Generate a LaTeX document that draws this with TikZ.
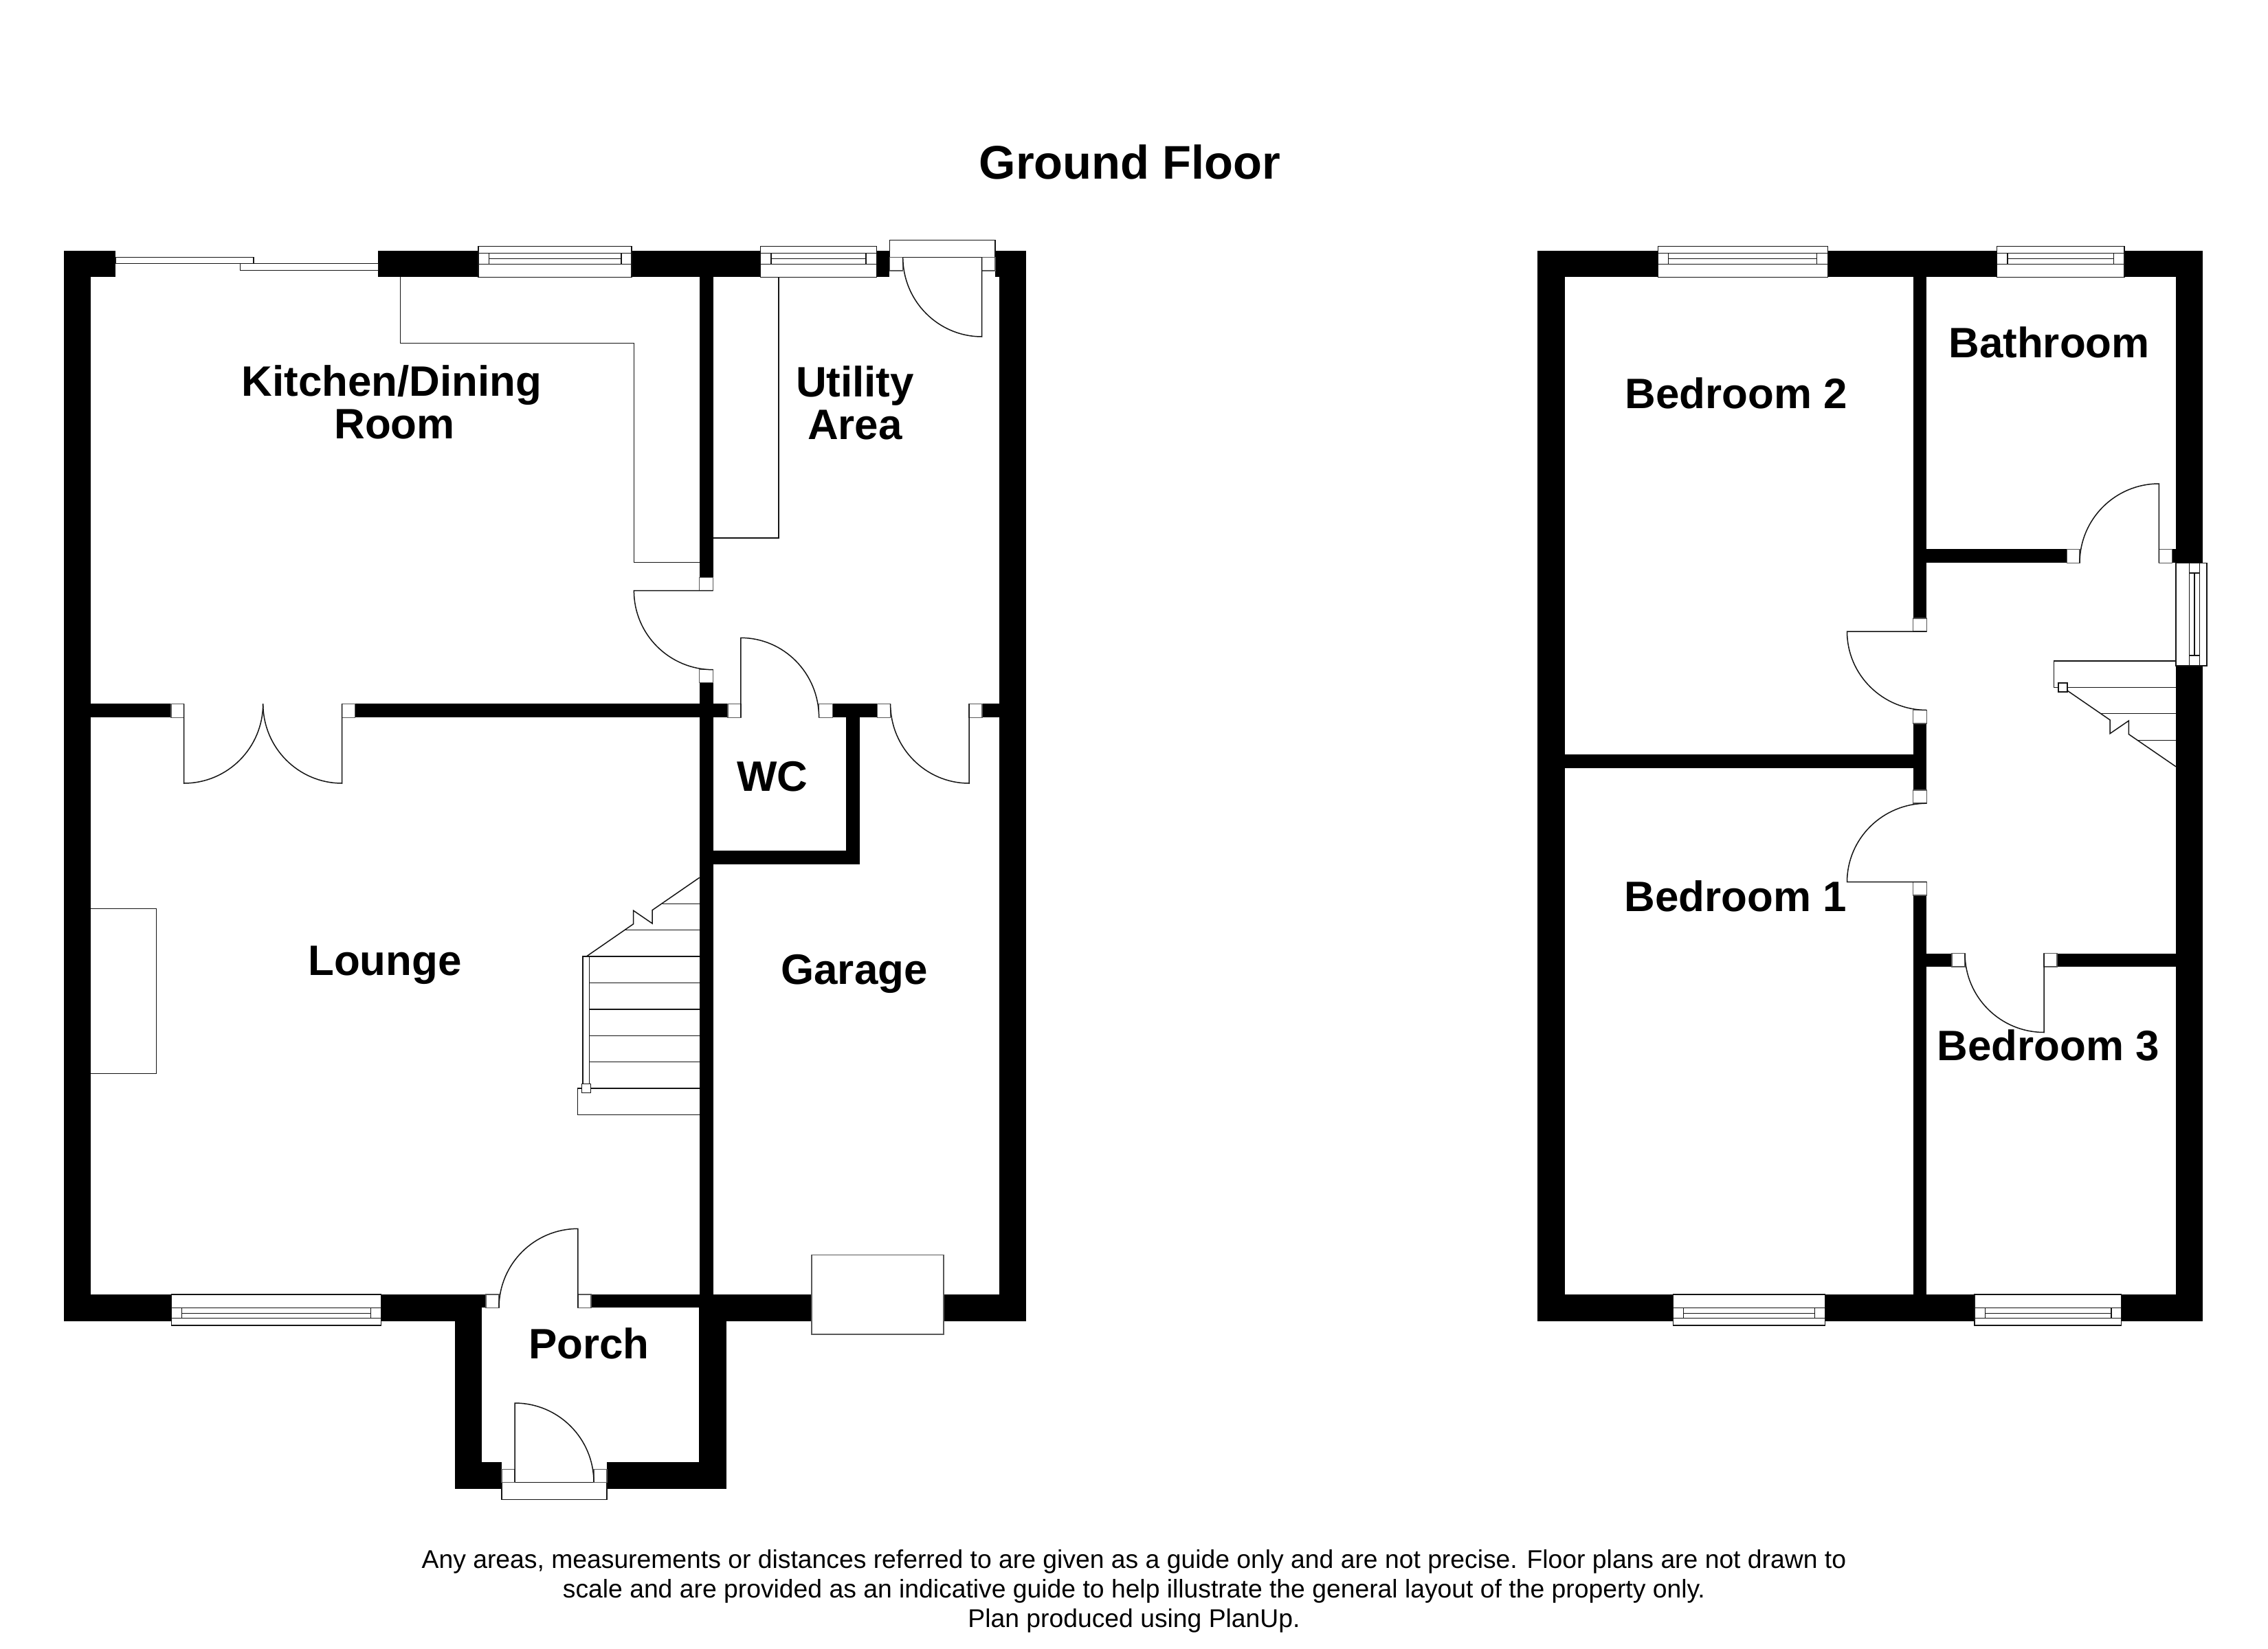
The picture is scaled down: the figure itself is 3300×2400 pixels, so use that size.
\documentclass[tikz,border=0pt]{standalone}
\usepackage{fontspec}
\setmainfont{Liberation Sans}
\tikzset{
  wall/.style={fill=black,draw=none},
  thinline/.style={draw=black!92,line width=1.5pt,line join=miter},
  whitebox/.style={thinline,fill=white},
  jambbox/.style={draw=black!65,line width=1.5pt,fill=white},
  roomlabel/.style={inner sep=0pt,anchor=base,align=center,font=\bfseries\fontsize{61.9}{61.6}\selectfont},
  titlelabel/.style={inner sep=0pt,anchor=base,font=\bfseries\fontsize{68.7}{72}\selectfont},
  footlabel/.style={inner sep=0pt,anchor=base,align=center,font=\fontsize{37.3}{42.7}\selectfont}
}
\newcommand\wallbox[4]{\fill[wall] (#1,#2) rectangle (#3,#4);}
\newcommand\jamb[4]{\filldraw[jambbox] (#1,#2) rectangle (#3,#4);}
% centre, leaf end, other arc end
\newcommand\door[6]{\draw[thinline] (#5,#6) .. controls ({#5+0.5523*(#3-#1)},{#6+0.5523*(#4-#2)}) and ({#3+0.5523*(#5-#1)},{#4+0.5523*(#6-#2)}) .. (#3,#4) -- (#1,#2);}
% top window: x1 x2 ix1 ix2
\newcommand\wintop[4]{%
  \filldraw[whitebox] (#1,358.7) rectangle (#2,403.3);
  \draw[thinline] (#1,368.7) -- (#2,368.7) (#1,384.3) -- (#2,384.3);
  \draw[thinline] (#3,368.7) rectangle (#4,384.3) (#3,376.7) -- (#4,376.7);}
% bottom window
\newcommand\winbot[4]{%
  \filldraw[whitebox] (#1,1884) rectangle (#2,1929.2);
  \draw[thinline] (#1,1903.5) -- (#2,1903.5) (#1,1918.7) -- (#2,1918.7);
  \draw[thinline] (#3,1903.5) rectangle (#4,1918.7) (#3,1911.5) -- (#4,1911.5);}
\begin{document}
\begin{tikzpicture}[x=1pt,y=-1pt]
\useasboundingbox (0,0) rectangle (3300,2400);
\fill[white] (0,0) rectangle (3300,2400);
% ---------- left plan walls
\wallbox{93}{365}{132}{1923.3}
\wallbox{93}{365}{168}{403.3}
\wallbox{550.4}{365}{696}{403.3}
\wallbox{919}{365}{1106.6}{403.3}
\wallbox{1275.4}{365}{1294.3}{403.3}
\wallbox{1448}{365}{1493.4}{403.3}
\wallbox{1454.4}{365}{1493.4}{1923.3}
\wallbox{1017.6}{403}{1037.6}{840.7}
\wallbox{1017.6}{993.7}{1037.6}{1923.3}
\wallbox{132}{1024.3}{249}{1044.3}
\wallbox{516.7}{1024.3}{1059}{1044.3}
\wallbox{1211.7}{1024.3}{1276.4}{1044.3}
\wallbox{1429}{1024.3}{1455}{1044.3}
\wallbox{1230.9}{1044}{1251}{1258.3}
\wallbox{1037}{1238.3}{1251}{1258.3}
\wallbox{93}{1884}{701.4}{1923.3}
\wallbox{701}{1884}{707}{1903.3}
\wallbox{860}{1884}{1057}{1903.3}
\wallbox{1017.4}{1884}{1181}{1923.3}
\wallbox{1373}{1884}{1455}{1923.3}
\wallbox{662}{1923}{701.4}{2167}
\wallbox{1017.4}{1903}{1057}{2167}
\wallbox{662}{2128}{730}{2167}
\wallbox{883}{2128}{1057}{2167}
% sliding door
\filldraw[whitebox] (168,374.3) rectangle (368.8,383.7);
\filldraw[whitebox] (349.4,383.7) rectangle (550.4,393.3);
% windows
\wintop{696}{919}{711.6}{903.8}
\wintop{1106.6}{1275.4}{1121.8}{1260}
\winbot{249.7}{554.3}{264.7}{539.3}
% back door
\filldraw[whitebox] (1294.3,349.3) rectangle (1448,374.3);
\jamb{1294.3}{374.3}{1313.7}{394}
\jamb{1428.6}{374.3}{1448}{394}
\door{1428.6}{374.3}{1428.6}{490}{1313.7}{374.3}
% fittings
\draw[thinline] (582.6,403.3) -- (582.6,499.3) -- (922.3,499.3) -- (922.3,818.7) -- (1017.6,818.7);
\draw[thinline] (1133,403.3) -- (1133,783) -- (1037.6,783);
\draw[thinline] (132,1322.7) -- (227.7,1322.7) -- (227.7,1562.6) -- (132,1562.6);
% doors, left plan
\jamb{1017.6}{840.7}{1037.6}{859.7}
\jamb{1017.6}{974.7}{1037.6}{993.7}
\door{1037.6}{859.7}{922.4}{859.7}{1037.6}{974.7}
\jamb{249}{1024.3}{267.7}{1044.3}
\jamb{497.7}{1024.3}{516.7}{1044.3}
\door{267.7}{1024.3}{267.7}{1140}{382.7}{1024.3}
\door{497.7}{1024.3}{497.7}{1140}{382.7}{1024.3}
\jamb{1059}{1024.3}{1077.8}{1044.3}
\jamb{1191.6}{1024.3}{1211.7}{1044.3}
\door{1077.8}{1044.3}{1077.8}{928.3}{1191.6}{1044.3}
\jamb{1276.4}{1024.3}{1295.6}{1044.3}
\jamb{1410}{1024.3}{1429}{1044.3}
\door{1410}{1024.3}{1410}{1140}{1295.6}{1024.3}
\jamb{707}{1884}{726}{1903.3}
\jamb{840.8}{1884}{860}{1903.3}
\door{840.8}{1903.3}{840.8}{1788.3}{726}{1903.3}
\filldraw[whitebox] (730,2157.3) rectangle (883,2182.7);
\jamb{730}{2138.3}{749}{2157.3}
\jamb{864}{2138.3}{883}{2157.3}
\door{749}{2157.3}{749}{2042}{864}{2157.3}
% garage box
\filldraw[jambbox] (1180.9,1826.7) rectangle (1372.9,1942);
% left stairs
\draw[thinline] (1017.7,1277.3) -- (949,1324.7) -- (949,1344) -- (921.7,1325.3) -- (921.7,1344.7) -- (853.3,1392);
\draw[thinline] (964,1315.3) -- (1017.7,1315.3);
\draw[thinline] (909.3,1353.7) -- (1017.7,1353.7);
\draw[thinline] (848,1577) -- (848,1392) -- (1017.7,1392);
\draw[thinline] (857.7,1392) -- (857.7,1577);
\draw[thinline] (857.7,1430.7) -- (1017.7,1430.7);
\draw[thinline] (857.7,1469) -- (1017.7,1469);
\draw[thinline] (857.7,1507.3) -- (1017.7,1507.3);
\draw[thinline] (857.7,1545.7) -- (1017.7,1545.7);
\draw[thinline] (1017.7,1584) -- (840.3,1584) -- (840.3,1622.3) -- (1017.7,1622.3);
\filldraw[whitebox] (846.7,1577.7) rectangle (859.3,1590.3);
% ---------- right plan walls
\wallbox{2236.7}{365}{2276.7}{1923.3}
\wallbox{2236.7}{365}{2412.7}{403.3}
\wallbox{2659.3}{365}{2905.6}{403.3}
\wallbox{3090.8}{365}{3205}{403.3}
\wallbox{3166}{365}{3205}{819.3}
\wallbox{3166}{968.5}{3205}{1923.3}
\wallbox{2783.5}{403}{2803.4}{899.9}
\wallbox{2783.5}{1053}{2803.4}{1150}
\wallbox{2783.5}{1303}{2803.4}{1923.3}
\wallbox{2276}{1098}{2783.5}{1118}
\wallbox{2803}{799.3}{3007.4}{819.3}
\wallbox{3160.5}{799.3}{3167}{819.3}
\wallbox{2803}{1387.7}{2840}{1406.8}
\wallbox{2993.2}{1387.7}{3167}{1406.8}
\wallbox{2236.7}{1884}{2434.3}{1923.3}
\wallbox{2655.6}{1884}{2873}{1923.3}
\wallbox{3086.7}{1884}{3205}{1923.3}
% right plan windows
\wintop{2412.7}{2659.3}{2427.7}{2643.7}
\wintop{2905.6}{3090.8}{2920.9}{3075.5}
\winbot{2434.3}{2655.6}{2449.6}{2640.3}
\winbot{2873}{3086.7}{2888.4}{3072}
\filldraw[whitebox] (3166,819.3) rectangle (3211,969);
\draw[thinline] (3185.3,819.3) -- (3185.3,969) (3200.7,819.3) -- (3200.7,969);
\draw[thinline] (3185.3,834) rectangle (3200.7,954) (3193,834) -- (3193,954);
% right plan doors
\jamb{3007.4}{799.3}{3026}{819.3}
\jamb{3141.3}{799.3}{3160.5}{819.3}
\door{3141.3}{819.3}{3141.3}{704}{3026}{819.3}
\jamb{2783.5}{899.9}{2803.4}{919}
\jamb{2783.5}{1033.5}{2803.4}{1053}
\door{2803.4}{919}{2687.5}{919}{2803.4}{1033.5}
\jamb{2783.5}{1150}{2803.4}{1169.2}
\jamb{2783.5}{1283.7}{2803.4}{1303}
\door{2803.4}{1283.7}{2687.5}{1283.7}{2803.4}{1169.2}
\jamb{2840}{1387.7}{2859}{1406.8}
\jamb{2974}{1387.7}{2993.2}{1406.8}
\door{2974}{1387.7}{2974}{1502.5}{2859}{1387.7}
% right stairs
\draw[thinline] (3166,961.9) -- (2988.3,961.9) -- (2988.3,1000.5) -- (3166,1000.5);
\draw[thinline] (3007.8,1005) -- (3070,1047.8) -- (3070,1067.7) -- (3097.3,1049) -- (3097.3,1068.6) -- (3166,1115.8);
\draw[thinline] (3057,1038.7) -- (3166,1038.7);
\draw[thinline] (3110.7,1077.3) -- (3166,1077.3);
\filldraw[whitebox] (2994.8,994) rectangle (3007.8,1007);
% ---------- texts
\node[titlelabel] (title) at (1644,261) {Ground Floor};
\node[roomlabel] (kitchen) at (570,638.3) {Kitchen/Dining\\\hspace*{8pt}Room};
\node[roomlabel] (utility) at (1244,639) {Utility\\Area};
\node[roomlabel] (wc) at (1124,1151) {WC};
\node[roomlabel] (lounge) at (560,1419) {Lounge};
\node[roomlabel] (garage) at (1243,1432) {Garage};
\node[roomlabel] (porch) at (857,1977) {Porch};
\node[roomlabel] (bed2) at (2526,594.5) {Bedroom 2};
\node[roomlabel] (bath) at (2981.5,520.5) {Bathroom};
\node[roomlabel] (bed1) at (2525,1326) {Bedroom 1};
\node[roomlabel] (bed3) at (2980,1543) {Bedroom 3};
\node[footlabel] (foot) at (1650,2368) {Any areas, measurements or distances referred to are given as a guide only and are not precise. Floor plans are not drawn to\\scale and are provided as an indicative guide to help illustrate the general layout of the property only.\\Plan produced using PlanUp.};
\end{tikzpicture}
\end{document}
